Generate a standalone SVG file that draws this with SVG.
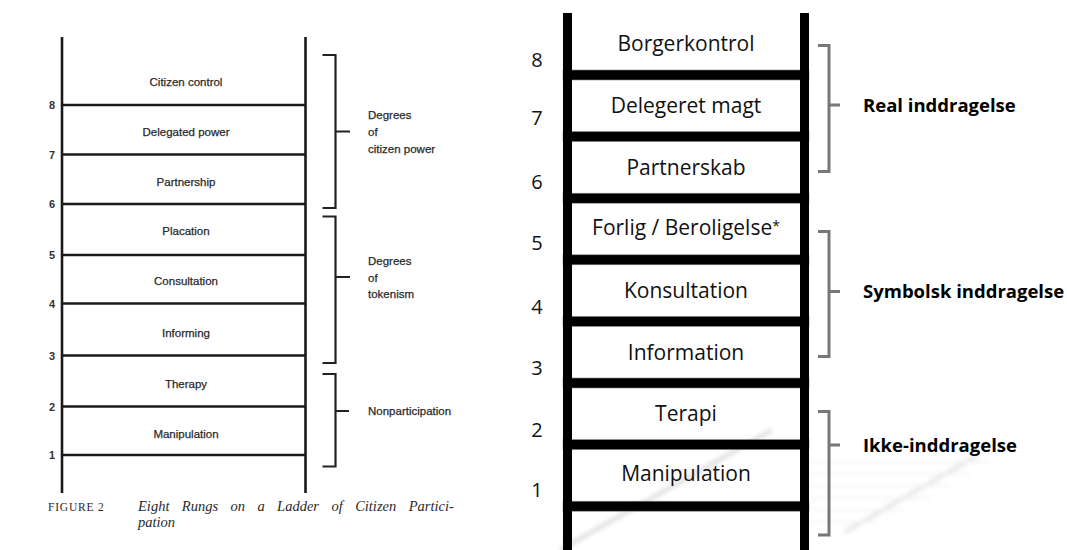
<svg xmlns="http://www.w3.org/2000/svg" width="1067" height="550" viewBox="0 0 1067 550">
<defs>
<style>
.rail{stroke:#1a1a1a;stroke-width:2.6;fill:none}
.rung{stroke:#1a1a1a;stroke-width:2.6;fill:none}
.brk{stroke:#222;stroke-width:2.2;fill:none}
.lbl{font-family:"Liberation Sans",Arial,sans-serif;font-size:11.5px;fill:#2a2a2a;stroke:#2a2a2a;stroke-width:0.25;text-anchor:middle}
.num{font-family:"Liberation Sans",Arial,sans-serif;font-size:11px;font-weight:bold;fill:#333;text-anchor:middle}
.grp{font-family:"Liberation Sans",Arial,sans-serif;font-size:11.5px;fill:#2a2a2a;stroke:#2a2a2a;stroke-width:0.25}
.cap{font-family:"Liberation Serif","Times New Roman",serif;fill:#2a2a2a}
.rrail{fill:#000}
.rrung{fill:#000;stroke:#888;stroke-width:0.6}
.rl{font-family:"Open Sans","Noto Sans",sans-serif;font-size:21px;fill:#111;text-anchor:middle}
.rn{font-family:"Open Sans","Noto Sans",sans-serif;font-size:20px;fill:#111;text-anchor:middle}
.gb{stroke:#777;stroke-width:3;fill:none}
.rg{font-family:"Open Sans","Noto Sans",sans-serif;font-size:18.5px;font-weight:bold;fill:#000}
</style>
<filter id="blur" x="-20%" y="-20%" width="140%" height="140%"><feGaussianBlur stdDeviation="2"/></filter>
</defs>
<rect width="1067" height="550" fill="#fff"/>

<!-- page-curl shading -->
<g id="curl" filter="url(#blur)" opacity="0.5">
<path d="M560,550 L772,430" stroke="#bbb" stroke-width="4"/>
<path d="M845,532 L978,455" stroke="#ccc" stroke-width="4"/>
<g stroke="#e6e6e6" stroke-width="2">
<line x1="810" y1="462" x2="990" y2="462"/>
<line x1="810" y1="474" x2="970" y2="474"/>
<line x1="810" y1="486" x2="950" y2="486"/>
<line x1="810" y1="498" x2="930" y2="498"/>
<line x1="810" y1="510" x2="905" y2="510"/>
<line x1="810" y1="522" x2="880" y2="522"/>
</g>
</g>

<!-- LEFT: original figure -->
<g id="left-ladder">
<line class="rail" x1="62" y1="37" x2="62" y2="493"/>
<line class="rail" x1="305.5" y1="37" x2="305.5" y2="493"/>
<line class="rung" x1="62" y1="105" x2="305.5" y2="105"/>
<line class="rung" x1="62" y1="154.5" x2="305.5" y2="154.5"/>
<line class="rung" x1="62" y1="204" x2="305.5" y2="204"/>
<line class="rung" x1="62" y1="255" x2="305.5" y2="255"/>
<line class="rung" x1="62" y1="303.5" x2="305.5" y2="303.5"/>
<line class="rung" x1="62" y1="355.5" x2="305.5" y2="355.5"/>
<line class="rung" x1="62" y1="406.5" x2="305.5" y2="406.5"/>
<line class="rung" x1="62" y1="455" x2="305.5" y2="455"/>
</g>
<g id="left-numbers">
<text class="num" x="52" y="109">8</text>
<text class="num" x="52" y="158.5">7</text>
<text class="num" x="52" y="208">6</text>
<text class="num" x="52" y="259">5</text>
<text class="num" x="52" y="307.5">4</text>
<text class="num" x="52" y="359.5">3</text>
<text class="num" x="52" y="410.5">2</text>
<text class="num" x="52" y="459">1</text>
</g>
<g id="left-labels">
<text class="lbl" x="186" y="86">Citizen control</text>
<text class="lbl" x="186" y="136">Delegated power</text>
<text class="lbl" x="186" y="186">Partnership</text>
<text class="lbl" x="186" y="235">Placation</text>
<text class="lbl" x="186" y="285">Consultation</text>
<text class="lbl" x="186" y="337">Informing</text>
<text class="lbl" x="186" y="388">Therapy</text>
<text class="lbl" x="186" y="438">Manipulation</text>
</g>
<g id="left-brackets">
<path class="brk" d="M322.5,55 H335.5 V208 H322.5 M335.5,131.5 H350"/>
<path class="brk" d="M322.5,216.5 H335.5 V363 H322.5 M335.5,277 H350"/>
<path class="brk" d="M322.5,374 H335.5 V466.5 H322.5 M335.5,411 H349"/>
</g>
<g id="left-groups">
<text class="grp" x="368" y="119">Degrees</text>
<text class="grp" x="368" y="136">of</text>
<text class="grp" x="368" y="152.5">citizen power</text>
<text class="grp" x="368" y="265">Degrees</text>
<text class="grp" x="368" y="281.5">of</text>
<text class="grp" x="368" y="298">tokenism</text>
<text class="grp" x="368" y="415">Nonparticipation</text>
</g>
<g id="caption">
<text class="cap" x="48" y="510.5" font-size="11.5" letter-spacing="0.8">FIGURE 2</text>
<text class="cap" x="138" y="510.5" font-size="14.5" font-style="italic" word-spacing="8.8">Eight Rungs on a Ladder of Citizen Partici-</text>
<text class="cap" x="138" y="527" font-size="14.5" font-style="italic">pation</text>
</g>

<!-- RIGHT: Danish ladder -->
<g id="right-ladder">
<rect class="rrung" x="563" y="70" width="246" height="10"/>
<rect class="rrung" x="563" y="131.6" width="246" height="10"/>
<rect class="rrung" x="563" y="193.2" width="246" height="10"/>
<rect class="rrung" x="563" y="254.8" width="246" height="10"/>
<rect class="rrung" x="563" y="316.4" width="246" height="10"/>
<rect class="rrung" x="563" y="378" width="246" height="10"/>
<rect class="rrung" x="563" y="439.6" width="246" height="10"/>
<rect class="rrung" x="563" y="501.2" width="246" height="10"/>
<rect class="rrail" x="563" y="13" width="9" height="537"/>
<rect class="rrail" x="800" y="13" width="9" height="537"/>
</g>
<g id="right-labels">
<text class="rl" x="686" y="50.5">Borgerkontrol</text>
<text class="rl" x="686" y="112.5">Delegeret magt</text>
<text class="rl" x="686" y="174.5">Partnerskab</text>
<text class="rl" x="686" y="234.5">Forlig / Beroligelse<tspan font-size="14" dy="-4">*</tspan></text>
<text class="rl" x="686" y="297.5">Konsultation</text>
<text class="rl" x="686" y="359.5">Information</text>
<text class="rl" x="686" y="420.5">Terapi</text>
<text class="rl" x="686" y="480.5">Manipulation</text>
</g>
<g id="right-numbers">
<text class="rn" x="537" y="67">8</text>
<text class="rn" x="537" y="125">7</text>
<text class="rn" x="537" y="189">6</text>
<text class="rn" x="537" y="250">5</text>
<text class="rn" x="537" y="314">4</text>
<text class="rn" x="537" y="375">3</text>
<text class="rn" x="537" y="437">2</text>
<text class="rn" x="537" y="497">1</text>
</g>
<g id="right-brackets">
<path class="gb" d="M818,45.5 H829 V171.5 H818 M829,105 H840"/>
<path class="gb" d="M818,231.5 H829 V356.5 H818 M829,291.5 H840"/>
<path class="gb" d="M818,411.5 H829 V535 H818 M829,445 H840"/>
</g>
<g id="right-groups">
<text class="rg" x="863" y="111.5">Real inddragelse</text>
<text class="rg" x="863" y="298">Symbolsk inddragelse</text>
<text class="rg" x="863" y="451.5">Ikke-inddragelse</text>
</g>
</svg>
